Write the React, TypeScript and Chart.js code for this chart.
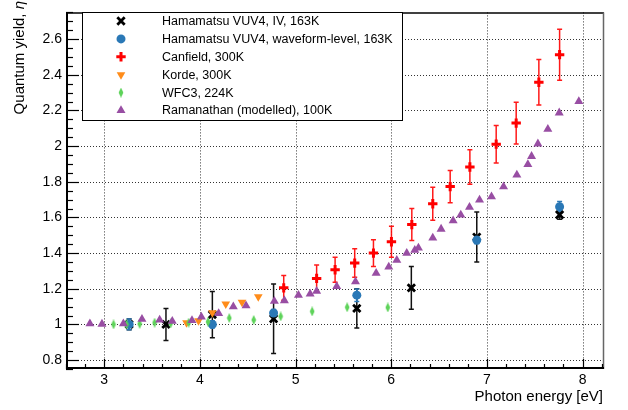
import React, { useEffect, useRef } from "react";
import { Chart, registerables } from "chart.js";
import { drawPoint } from "chart.js/helpers";
Chart.register(...registerables);

const FONT = "'Liberation Sans', Arial, Helvetica, sans-serif";

// ---- data ----
const seriesLabels = [
  "Hamamatsu VUV4, IV, 163K",
  "Hamamatsu VUV4, waveform-level, 163K",
  "Canfield, 300K",
  "Korde, 300K",
  "WFC3, 224K",
  "Ramanathan (modelled), 100K",
];

const ivX = [3.26, 3.645, 4.13, 4.77, 5.64, 6.21, 6.894, 7.76];
const ivY = [1.0, 1.0, 1.055, 1.032, 1.09, 1.205, 1.49, 1.615];
const ivErr = [0.03, 0.09, 0.13, 0.195, 0.11, 0.12, 0.14, 0.025];

const wfX = [3.26, 4.13, 4.77, 5.64, 6.894, 7.76];
const wfY = [1.0, 1.0, 1.064, 1.164, 1.473, 1.66];
const wfErr = [0.03, 0.02, 0.02, 0.035, 0.02, 0.03];

const canX = [4.876, 5.22, 5.413, 5.618, 5.814, 6.002, 6.215, 6.434, 6.616, 6.822, 7.097, 7.306, 7.543, 7.76];
const canY = [1.205, 1.258, 1.307, 1.344, 1.4, 1.464, 1.56, 1.677, 1.773, 1.883, 2.011, 2.129, 2.358, 2.513];
const canErr = [0.07, 0.075, 0.07, 0.08, 0.075, 0.087, 0.09, 0.093, 0.09, 0.097, 0.105, 0.117, 0.128, 0.143];

const kordeX = [3.86, 3.985, 4.13, 4.27, 4.44, 4.61];
const kordeY = [1.01, 1.02, 1.065, 1.115, 1.125, 1.155];

const wfc3X = [3.097, 3.233, 3.37, 3.526, 3.694, 3.882, 4.085, 4.307, 4.562, 4.844, 5.173, 5.539, 5.964];
const wfc3Y = [1.0, 1.0, 1.003, 1.01, 1.006, 1.01, 1.015, 1.036, 1.025, 1.045, 1.073, 1.096, 1.095];

const ramX = [2.85, 2.976, 3.2, 3.394, 3.579, 3.711, 3.917, 4.015, 4.196, 4.349, 4.482, 4.778, 4.883, 5.03, 5.152, 5.22, 5.43, 5.626, 5.842, 5.974, 6.058, 6.162, 6.246, 6.284, 6.434, 6.521, 6.647, 6.727, 6.818, 6.923, 7.048, 7.174, 7.313, 7.428, 7.467, 7.533, 7.637, 7.756, 7.961];
const ramY = [1.004, 1.002, 1.004, 1.029, 1.025, 1.018, 1.022, 1.042, 1.062, 1.1, 1.105, 1.13, 1.134, 1.164, 1.171, 1.186, 1.213, 1.24, 1.287, 1.322, 1.36, 1.4, 1.416, 1.429, 1.485, 1.535, 1.582, 1.614, 1.658, 1.698, 1.717, 1.773, 1.839, 1.897, 1.943, 2.013, 2.095, 2.187, 2.251];

const xTickValues = [3, 4, 5, 6, 7, 8];
const xTickLabels = ["3", "4", "5", "6", "7", "8"];
const yTickValues = [0.8, 1.0, 1.2, 1.4, 1.6, 1.8, 2.0, 2.2, 2.4, 2.6];
const yTickLabels = ["0.8", "1", "1.2", "1.4", "1.6", "1.8", "2", "2.2", "2.4", "2.6"];

const xTitle = "Photon energy [eV]";
const yTitle = "Quantum yield, ";
const yTitleSym = "\u03B7";

const X_MIN = 2.6, X_MAX = 8.224, Y_MIN = 0.75, Y_MAX = 2.75;

const COLORS = {
  iv: "#000000",
  wf: "#2a78b6",
  can: "#ff0000",
  korde: "#ff8c1a",
  wfc3: "#5ed35a",
  ram: "#984ea3",
};

function makeDiamond(color: string) {
  const c = document.createElement("canvas");
  c.width = 6;
  c.height = 10;
  const g = c.getContext("2d")!;
  g.fillStyle = color;
  g.beginPath();
  g.moveTo(3, 0);
  g.lineTo(5.4, 5);
  g.lineTo(3, 10);
  g.lineTo(0.6, 5);
  g.closePath();
  g.fill();
  return c;
}

const mk = (xs: number[], ys: number[]) => xs.map((x, i) => ({ x, y: ys[i] }));

export default function App() {
  const ref = useRef<HTMLCanvasElement | null>(null);

  useEffect(() => {
    const canvas = ref.current!;
    const diamond = makeDiamond(COLORS.wfc3);

    const datasets: any[] = [
      {
        label: seriesLabels[0], data: mk(ivX, ivY), order: 5,
        pointStyle: "crossRot", pointRadius: 5.2, pointBorderWidth: 2.8,
        pointBorderColor: COLORS.iv, pointBackgroundColor: COLORS.iv,
      },
      {
        label: seriesLabels[1], data: mk(wfX, wfY), order: 4,
        pointStyle: "circle", pointRadius: 4.5, pointBorderWidth: 0,
        pointBorderColor: COLORS.wf, pointBackgroundColor: COLORS.wf,
      },
      {
        label: seriesLabels[2], data: mk(canX, canY), order: 3,
        pointStyle: "cross", pointRadius: 4.7, pointBorderWidth: 3,
        pointBorderColor: COLORS.can, pointBackgroundColor: COLORS.can,
      },
      {
        label: seriesLabels[3], data: mk(kordeX, kordeY), order: 2,
        pointStyle: "triangle", pointRotation: 180, pointRadius: 5, pointBorderWidth: 0,
        pointBorderColor: COLORS.korde, pointBackgroundColor: COLORS.korde,
      },
      {
        label: seriesLabels[4], data: mk(wfc3X, wfc3Y), order: 1,
        pointStyle: diamond, pointRadius: 4,
        pointBorderColor: COLORS.wfc3, pointBackgroundColor: COLORS.wfc3,
      },
      {
        label: seriesLabels[5], data: mk(ramX, ramY), order: 0,
        pointStyle: "triangle", pointRadius: 5.2, pointBorderWidth: 0,
        pointBorderColor: COLORS.ram, pointBackgroundColor: COLORS.ram,
      },
    ];

    const errorSets = [
      { xs: ivX, ys: ivY, errs: ivErr, color: "#111111", cap: 2.5 },
      { xs: wfX, ys: wfY, errs: wfErr, color: COLORS.wf, cap: 2.5 },
      { xs: canX, ys: canY, errs: canErr, color: "rgba(255,0,0,0.9)", cap: 2.5 },
    ];

    const extras = {
      id: "rootStyle",
      beforeDatasetsDraw(chart: any) {
        const { ctx, chartArea: a, scales } = chart;
        const sx = scales.x, sy = scales.y;
        ctx.save();
        ctx.strokeStyle = "#333";
        ctx.lineWidth = 1;
        ctx.setLineDash([1, 2]);
        for (const v of xTickValues) {
          const px = Math.round(sx.getPixelForValue(v)) + 0.5;
          ctx.beginPath(); ctx.moveTo(px, a.top); ctx.lineTo(px, a.bottom); ctx.stroke();
        }
        for (const v of yTickValues) {
          const py = Math.round(sy.getPixelForValue(v)) + 0.5;
          ctx.beginPath(); ctx.moveTo(a.left, py); ctx.lineTo(a.right, py); ctx.stroke();
        }
        ctx.setLineDash([]);
        for (const s of errorSets) {
          ctx.strokeStyle = s.color;
          ctx.lineWidth = 1.5;
          s.xs.forEach((xv, i) => {
            const px = sx.getPixelForValue(xv);
            const y1 = sy.getPixelForValue(s.ys[i] - s.errs[i]);
            const y2 = sy.getPixelForValue(s.ys[i] + s.errs[i]);
            ctx.beginPath();
            ctx.moveTo(px, y1); ctx.lineTo(px, y2);
            ctx.moveTo(px - s.cap, y1); ctx.lineTo(px + s.cap, y1);
            ctx.moveTo(px - s.cap, y2); ctx.lineTo(px + s.cap, y2);
            ctx.stroke();
          });
        }
        ctx.restore();
      },
      afterDatasetsDraw(chart: any) {
        const { ctx, chartArea: a, scales } = chart;
        const sx = scales.x, sy = scales.y;
        ctx.save();
        ctx.strokeStyle = "#000";
        ctx.lineWidth = 1.5;
        ctx.beginPath(); ctx.moveTo(a.left, a.top + 0.5); ctx.lineTo(a.right, a.top + 0.5); ctx.stroke();
        ctx.strokeStyle = "#666";
        ctx.beginPath(); ctx.moveTo(a.right - 0.5, a.top); ctx.lineTo(a.right - 0.5, a.bottom); ctx.stroke();
        ctx.strokeStyle = "#000";
        ctx.lineWidth = 2;
        ctx.beginPath(); ctx.moveTo(a.left + 1, a.top); ctx.lineTo(a.left + 1, a.bottom); ctx.stroke();
        ctx.beginPath(); ctx.moveTo(a.left, a.bottom - 1); ctx.lineTo(a.right, a.bottom - 1); ctx.stroke();
        ctx.lineWidth = 1.2;
        for (let k = 0; k <= 40; k++) {
          const v = Y_MIN + k * 0.05;
          if (v > Y_MAX + 1e-9) break;
          const major = Math.abs(v / 0.2 - Math.round(v / 0.2)) < 1e-6;
          const py = Math.round(sy.getPixelForValue(v)) + 0.5;
          ctx.beginPath(); ctx.moveTo(a.left, py); ctx.lineTo(a.left + (major ? 13 : 7), py); ctx.stroke();
        }
        for (let k = 0; k <= 40; k++) {
          const v = X_MIN + k * 0.2;
          if (v > X_MAX + 1e-9) break;
          const major = Math.abs(v - Math.round(v)) < 1e-6;
          const px = Math.round(sx.getPixelForValue(v)) + 0.5;
          ctx.beginPath(); ctx.moveTo(px, a.bottom); ctx.lineTo(px, a.bottom - (major ? 10 : 5)); ctx.stroke();
        }
        const lx = 82, ly = 12, lw = 320, lh = 108;
        ctx.fillStyle = "#fff";
        ctx.fillRect(lx, ly, lw, lh);
        ctx.strokeStyle = "#000";
        ctx.lineWidth = 1;
        ctx.strokeRect(lx + 0.5, ly + 0.5, lw, lh);
        ctx.font = `12.5px ${FONT}`;
        ctx.textBaseline = "middle";
        ctx.textAlign = "left";
        datasets.forEach((d, i) => {
          const rowY = 21 + i * 17.9;
          ctx.fillStyle = d.pointBackgroundColor;
          ctx.strokeStyle = d.pointBorderColor;
          ctx.lineWidth = d.pointBorderWidth || 0;
          drawPoint(ctx, {
            pointStyle: d.pointStyle,
            radius: d.pointRadius,
            rotation: d.pointRotation || 0,
            borderWidth: d.pointBorderWidth || 0,
          } as any, 121, rowY);
          ctx.fillStyle = "#000";
          ctx.fillText(d.label, 162, rowY + 0.5);
        });
        ctx.fillStyle = "#000";
        ctx.font = `15px ${FONT}`;
        ctx.textAlign = "right";
        ctx.textBaseline = "alphabetic";
        ctx.fillText(xTitle, a.right - 1, 401);
        ctx.translate(24, 1);
        ctx.rotate(-Math.PI / 2);
        ctx.font = `italic 15px ${FONT}`;
        const w = ctx.measureText(yTitleSym).width;
        ctx.fillText(yTitleSym, 0, 0);
        ctx.font = `15px ${FONT}`;
        ctx.fillText(yTitle, -w, 0);
        ctx.restore();
      },
    };

    const chart = new Chart(canvas, {
      type: "scatter",
      data: { datasets },
      options: {
        animation: false,
        responsive: false,
        devicePixelRatio: 1,
        layout: { padding: { top: 3, right: 24, left: 0, bottom: 0 } },
        plugins: { legend: { display: false }, tooltip: { enabled: false } },
        scales: {
          x: {
            type: "linear", min: X_MIN, max: X_MAX,
            afterBuildTicks: (s: any) => { s.ticks = xTickValues.map((v) => ({ value: v })); },
            afterFit: (s: any) => { s.height = 41; },
            grid: { display: false, drawTicks: false },
            border: { display: false },
            ticks: {
              padding: 3, color: "#000", maxRotation: 0, autoSkip: false,
              font: { family: FONT, size: 14 },
              callback: (v: any) => { const i = xTickValues.indexOf(Number(v)); return i >= 0 ? xTickLabels[i] : ""; },
            },
          },
          y: {
            type: "linear", min: Y_MIN, max: Y_MAX,
            afterBuildTicks: (s: any) => { s.ticks = yTickValues.map((v) => ({ value: v })); },
            afterFit: (s: any) => { s.width = 66; },
            grid: { display: false, drawTicks: false },
            border: { display: false },
            ticks: {
              padding: 4, color: "#000", autoSkip: false,
              font: { family: FONT, size: 14 },
              callback: (v: any) => {
                const i = yTickValues.findIndex((t) => Math.abs(t - Number(v)) < 1e-9);
                return i >= 0 ? yTickLabels[i] : "";
              },
            },
          },
        },
      },
      plugins: [extras],
    } as any);
    return () => chart.destroy();
  }, []);

  return (
    <div style={{ position: "absolute", left: 0, top: 0, width: 628, height: 410, background: "#fff" }}>
      <canvas ref={ref} width={628} height={410} style={{ display: "block" }} />
    </div>
  );
}
